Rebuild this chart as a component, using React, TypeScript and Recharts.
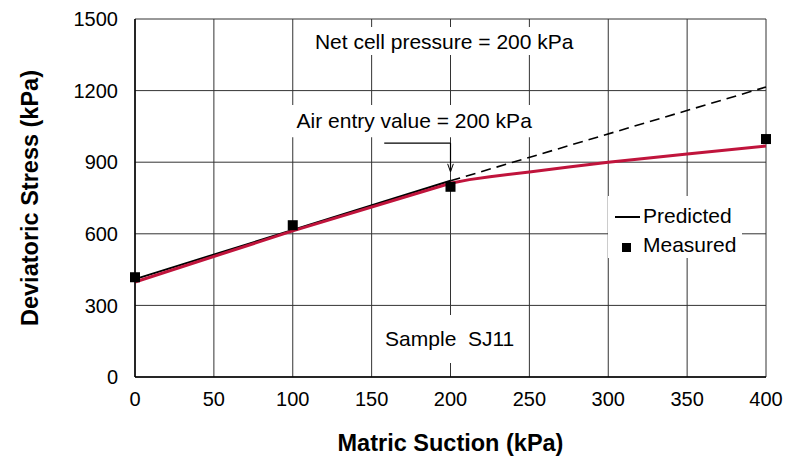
import React from 'react';
import {
  ComposedChart,
  Line,
  Scatter,
  XAxis,
  YAxis,
  CartesianGrid,
  ReferenceArea,
  ReferenceLine,
  Label,
} from 'recharts';

// values (kPa)
const xTicks = [0, 50, 100, 150, 200, 250, 300, 350, 400];
const yTicks = [0, 300, 600, 900, 1200, 1500];

const measured = [
  { x: 0, y: 418 },
  { x: 100, y: 636 },
  { x: 200, y: 797 },
  { x: 400, y: 997 },
];

const predicted = [
  { x: 0, y: 410 },
  { x: 200, y: 822 },
];

const predictedExtension = [
  { x: 200, y: 822 },
  { x: 400, y: 1215 },
];

const fitted = [
  { x: 0, y: 398 },
  { x: 100, y: 612 },
  { x: 200, y: 812 },
  { x: 212, y: 827 },
  { x: 225, y: 839 },
  { x: 250, y: 859 },
  { x: 275, y: 880 },
  { x: 300, y: 900 },
  { x: 350, y: 934 },
  { x: 400, y: 968 },
];

const airEntry = 200;

const FONT = '"Liberation Sans", Arial, sans-serif';
const RED = '#C0143C';

const SquareDot = (props: any) => {
  const { cx, cy } = props;
  if (cx == null || cy == null) return null;
  return <rect x={cx - 5} y={cy - 5} width={10} height={10} fill="#000" />;
};

const textStyle = { fontSize: 21, fill: '#000', fontFamily: FONT };
const titleStyle = { fontSize: 23.5, fontWeight: 'bold', fill: '#000', fontFamily: FONT };

const LegendBox = () => (
  <div
    style={{
      position: 'absolute',
      left: 608,
      top: 196,
      width: 134,
      height: 62,
      background: '#fff',
      fontFamily: FONT,
      fontSize: 21,
      color: '#000',
    }}
  >
    <span style={{ position: 'absolute', left: 7, top: 20, width: 25, height: 2, background: '#000' }} />
    <span style={{ position: 'absolute', left: 35, top: 8, lineHeight: '24px' }}>Predicted</span>
    <span style={{ position: 'absolute', left: 14, top: 47, width: 9, height: 9, background: '#000' }} />
    <span style={{ position: 'absolute', left: 35, top: 37, lineHeight: '24px' }}>Measured</span>
  </div>
);

export default function App() {
  return (
    <div style={{ position: 'absolute', left: 0, top: 0, width: 795, height: 458, background: '#fff' }}>
      <ComposedChart
        width={795}
        height={458}
        margin={{ top: 19, right: 29, left: 0, bottom: 0 }}
      >
        <CartesianGrid stroke="#333" strokeWidth={1} />
        <XAxis
          type="number"
          dataKey="x"
          domain={[0, 400]}
          ticks={xTicks}
          interval={0}
          height={81}
          tickLine={false}
          tickSize={0}
          tickMargin={15}
          axisLine={{ stroke: '#000', strokeWidth: 1.5 }}
          tick={{ fontSize: 20, fill: '#000', fontFamily: FONT }}
        >
          <Label value="Matric Suction (kPa)" position="insideBottom" offset={7} style={titleStyle} />
        </XAxis>
        <YAxis
          type="number"
          domain={[0, 1500]}
          ticks={yTicks}
          interval={0}
          width={135}
          tickLine={false}
          tickSize={0}
          tickMargin={17}
          axisLine={{ stroke: '#000', strokeWidth: 1.5 }}
          tick={{ fontSize: 20, fill: '#000', fontFamily: FONT }}
        >
          <Label
            value="Deviatoric Stress (kPa)"
            angle={-90}
            position="insideLeft"
            offset={30}
            style={{ ...titleStyle, textAnchor: 'middle' }}
          />
        </YAxis>

        <ReferenceArea x1={104} x2={288} y1={1349} y2={1466} fill="#fff" fillOpacity={1} stroke="none" ifOverflow="visible">
          <Label value="Net cell pressure = 200 kPa" position="center" style={textStyle} />
        </ReferenceArea>
        <ReferenceArea x1={98} x2={256} y1={1005} y2={1140} fill="#fff" fillOpacity={1} stroke="none" ifOverflow="visible">
          <Label value="Air entry value = 200 kPa" position="center" style={textStyle} />
        </ReferenceArea>
        <ReferenceArea x1={152} x2={247} y1={59} y2={260} fill="#fff" fillOpacity={1} stroke="none" ifOverflow="visible">
          <Label value={'Sample\u00A0\u00A0SJ11'} position="center" style={textStyle} />
        </ReferenceArea>

        {/* arrow pointing at the air entry value */}
        <ReferenceLine segment={[{ x: 158, y: 980 }, { x: airEntry, y: 980 }]} stroke="#000" strokeWidth={1.2} />
        <ReferenceLine segment={[{ x: airEntry, y: 980 }, { x: airEntry, y: 860 }]} stroke="#000" strokeWidth={1.2} />
        <ReferenceLine segment={[{ x: airEntry - 1.8, y: 893 }, { x: airEntry, y: 860 }]} stroke="#000" strokeWidth={1} />
        <ReferenceLine segment={[{ x: airEntry + 1.8, y: 893 }, { x: airEntry, y: 860 }]} stroke="#000" strokeWidth={1} />

        <Line
          data={predictedExtension}
          dataKey="y"
          type="linear"
          stroke="#000"
          strokeWidth={1.6}
          strokeDasharray="10 6"
          dot={false}
          isAnimationActive={false}
        />
        <Line
          data={predicted}
          dataKey="y"
          name="Predicted"
          type="linear"
          stroke="#000"
          strokeWidth={2}
          dot={false}
          isAnimationActive={false}
        />
        <Line
          data={fitted}
          dataKey="y"
          type="linear"
          stroke={RED}
          strokeWidth={3}
          dot={false}
          isAnimationActive={false}
        />
        <Scatter
          data={measured}
          dataKey="y"
          name="Measured"
          fill="#000"
          shape={<SquareDot />}
          isAnimationActive={false}
        />
      </ComposedChart>
      <LegendBox />
    </div>
  );
}
